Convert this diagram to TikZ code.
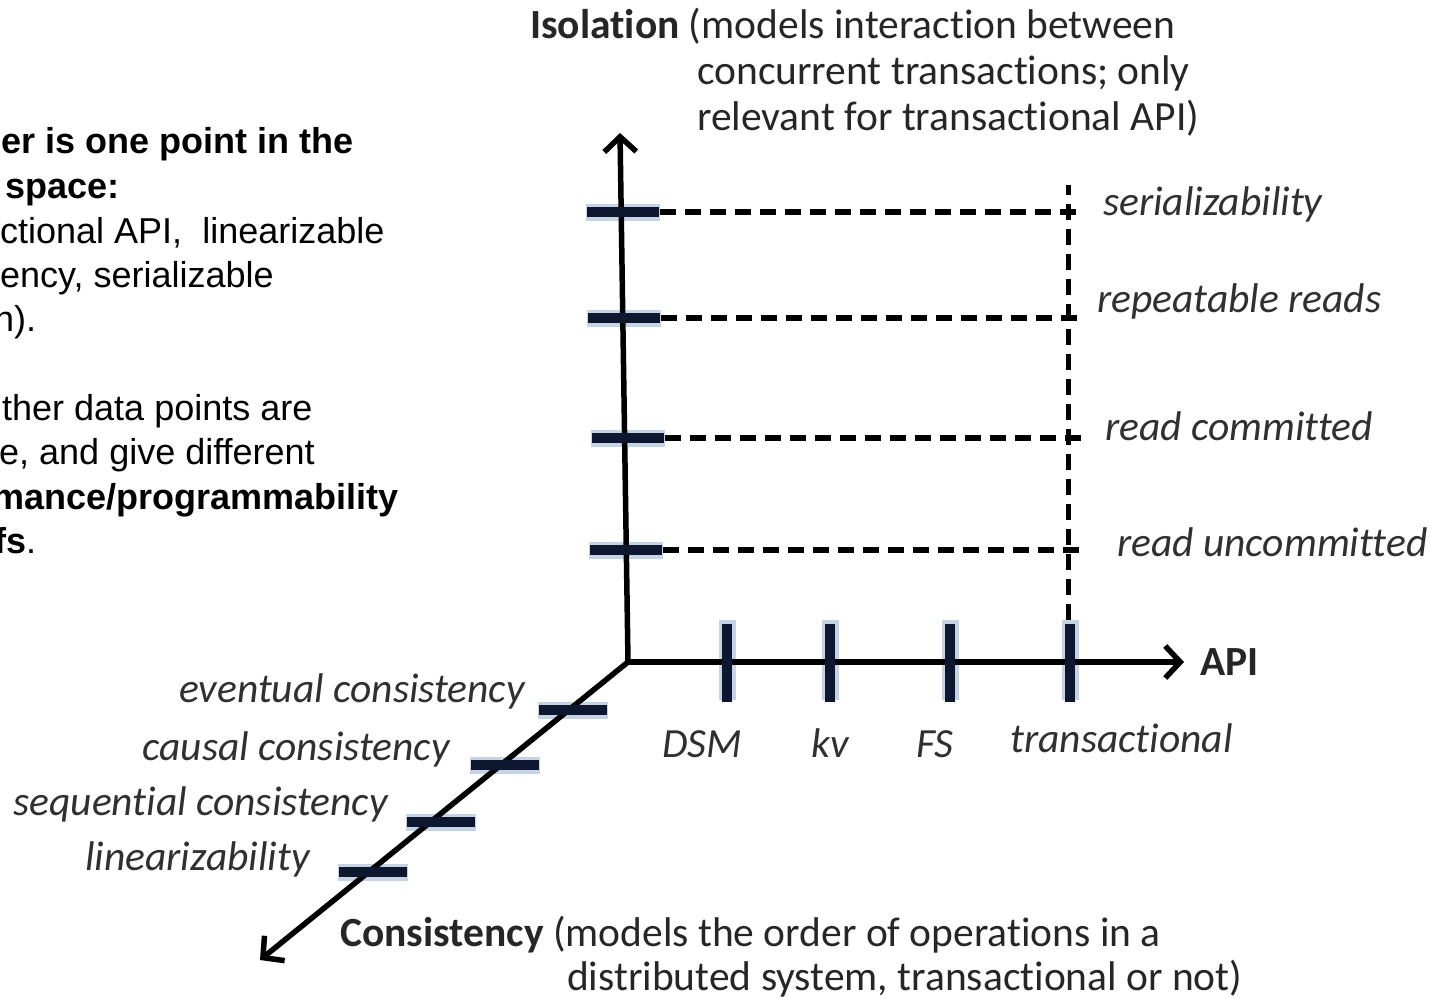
\documentclass[tikz,border=0pt]{standalone}
\usepackage{fontspec}
\setmainfont{Liberation Sans}
\newfontfamily\calfont[Ligatures={NoCommon}]{Carlito}
\usetikzlibrary{arrows.meta}
\definecolor{navy}{HTML}{0D1830}
\definecolor{glow}{HTML}{8FA8CC}
\definecolor{lblgray}{HTML}{303030}
\begin{document}
\begin{tikzpicture}[x=1pt,y=-1pt,
  axis/.style={line width=5.5pt, black},
  tip/.style={-{Straight Barb[length=15pt,width=32pt,line width=5.5pt]}},
  tickglow/.style={line width=17pt, glow, opacity=0.5},
  tickbar/.style={line width=10.5pt, navy},
  dashline/.style={line width=6pt, black, dash pattern=on 16pt off 9pt},
  lbl/.style={font=\calfont\itshape\fontsize{41.5}{49}\selectfont, text=lblgray, inner sep=0pt},
  ttl/.style={font=\calfont\fontsize{41.5}{49}\selectfont, text=black!85, inner sep=0pt, anchor=base west},
  lt/.style={font=\fontsize{36}{44}\selectfont, inner sep=0pt, anchor=base west}]
\useasboundingbox (0,0) rectangle (1431,998);
\fill[white] (0,0) rectangle (1431,998);

% left text
\node[lt] (t1) at (1,153) {\textbf{er is one point in the}};
\node[lt] (t2) at (5,198) {\textbf{space:}};
\node[lt] (t3) at (0,243) {ctional API,\ \ linearizable};
\node[lt] (t4) at (0,287) {ency, serializable};
\node[lt] (t5) at (-6,331) {n).};
\node[lt] (t6) at (2,420) {ther data points are};
\node[lt] (t7) at (-1,464) {e, and give different};
\node[lt] (t8) at (-8,509) {\textbf{mance/programmability}};
\node[lt] (t9) at (-6,553) {\textbf{fs}.};

% coordinates
\coordinate (O) at (628,662);
\coordinate (Itop) at (620,133);
\coordinate (Aend) at (1184,662);
\coordinate (Cend) at (260,960);

% isolation ticks (glow)
\foreach \n/\xc/\yc in {s/623/212, r/624/318, c/628/438, u/626/550}{
  \coordinate (i\n) at (\xc,\yc);
  \draw[tickglow] (\xc-37,\yc) -- (\xc+37,\yc);
}
% api ticks
\foreach \n/\xc in {dsm/727, kv/830, fs/950, tr/1070}{
  \coordinate (a\n) at (\xc,662);
  \draw[tickglow] (\xc,620) -- (\xc,700);
}
% consistency ticks
\foreach \n/\xc/\yc in {ev/573/710, ca/505/765, se/441/822, li/373/872}{
  \coordinate (c\n) at (\xc,\yc);
  \draw[tickglow] (\xc-35,\yc) -- (\xc+35,\yc);
}

% dashed guide lines
\coordinate (vtop) at (1068,185);
\coordinate (vbot) at (1068,620);
\draw[dashline, line width=5pt] (vbot) -- (vtop);
\foreach \n/\yc in {s/212, r/318, c/438, u/550}{
  \coordinate (d\n) at (1082,\yc);
  \draw[dashline] ([xshift=37pt]i\n) -- (d\n);
}

% axes
\draw[axis, tip] (O) -- (Itop);
\draw[axis, tip] (O) -- (Aend);
\draw[axis, tip] (O) -- (Cend);

% tick bars
\foreach \n in {s,r,c,u}{
  \draw[tickbar] ([xshift=-36pt]i\n) -- ([xshift=36pt]i\n);
}
\foreach \n in {dsm,kv,fs,tr}{
  \draw[tickbar] ([yshift=38pt]a\n) -- ([yshift=-40pt]a\n);
}
\foreach \n in {ev,ca,se,li}{
  \draw[tickbar] ([xshift=-34pt]c\n) -- ([xshift=34pt]c\n);
}

% isolation level labels
\node[lbl, anchor=base west] (ls) at (1103,215) {serializability};
\node[lbl, anchor=base west] (lr) at (1097,312) {repeatable reads};
\node[lbl, anchor=base west] (lc) at (1105,440) {read committed};
\node[lbl, anchor=base west] (lu) at (1117,556) {read uncommitted};

% api labels
\node[lbl, anchor=base] (ldsm) at (702,757) {DSM};
\node[lbl, anchor=base] (lkv) at (830,757) {kv};
\node[lbl, anchor=base] (lfs) at (935,757) {FS};
\node[lbl, anchor=base west] (ltr) at (1010,752) {transactional};

% consistency labels
\node[lbl, anchor=base east] (lev) at (525,702) {eventual consistency};
\node[lbl, anchor=base east] (lca) at (450,760) {causal consistency};
\node[lbl, anchor=base east] (lse) at (388,815) {sequential consistency};
\node[lbl, anchor=base east] (lli) at (310,870) {linearizability};

% axis titles
\node[ttl] (iso1) at (530,38) {\textbf{Isolation} (models interaction between};
\node[ttl] (iso2) at (697,84) {concurrent transactions; only};
\node[ttl] (iso3) at (697,130) {relevant for transactional API)};
\node[ttl] (api) at (1200,675) {\textbf{API}};
\node[ttl] (con1) at (340,946) {\textbf{Consistency} (models the order of operations in a};
\node[ttl] (con2) at (567,990) {distributed system, transactional or not)};
\end{tikzpicture}
\end{document}
